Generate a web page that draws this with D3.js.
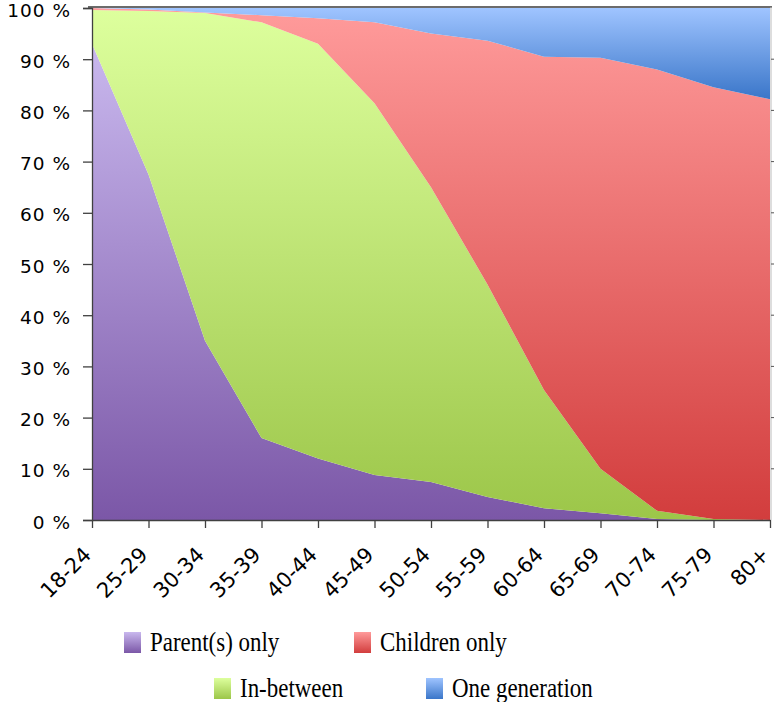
<!DOCTYPE html>
<html>
<head>
<meta charset="utf-8">
<script src="https://cdn.jsdelivr.net/npm/d3@7"></script>
<style>
  html, body { margin: 0; padding: 0; background: #ffffff; }
  svg { display: block; }
</style>
</head>
<body>
<svg id="chart" width="774" height="702"></svg>
<script>
// ---- data ----
const categories = ["18-24","25-29","30-34","35-39","40-44","45-49","50-54","55-59","60-64","65-69","70-74","75-79","80+"];
const parentOnly   = [93, 67.5, 35, 16, 12, 8.8, 7.4, 4.5, 2.3, 1.3, 0.2, 0, 0];
const inBetween    = [6.6, 31.9, 64, 81.2, 81, 72.6, 57.6, 41.5, 23.1, 8.7, 1.6, 0.2, 0];
const childrenOnly = [0.4, 0.3, 0.1, 1.4, 5, 15.8, 30, 47.6, 65.1, 80.3, 86.2, 84.3, 82.2];
const oneGeneration= [0, 0.3, 0.9, 1.4, 2, 2.8, 5, 6.4, 9.5, 9.7, 12, 15.5, 17.8];
const seriesNames  = ["Parent(s) only", "In-between", "Children only", "One generation"];
const yTicks       = [0,10,20,30,40,50,60,70,80,90,100];

// ---- layout ----
const svg = d3.select("#chart");
const mLeft = 92, mRight = 770, mTop = 8, mBottom = 520;

const x = d3.scalePoint().domain(categories).range([mLeft, mRight]);
const y = d3.scaleLinear().domain([0, 100]).range([mBottom, mTop]);

const keys = ["p","b","c","o"];
const table = categories.map((c, i) => ({
  cat: c, p: parentOnly[i], b: inBetween[i], c: childrenOnly[i], o: oneGeneration[i]
}));
const stacked = d3.stack().keys(keys)(table);

const grads = {
  p: ["#c9b8ee", "#7b57a7"],
  b: ["#ddff9d", "#9cc649"],
  c: ["#ff9b9b", "#d23d3d"],
  o: ["#9fc4ff", "#3a76c9"]
};
const defs = svg.append("defs");
keys.forEach(k => {
  const g = defs.append("linearGradient").attr("id", "g_" + k)
    .attr("x1", 0).attr("y1", 0).attr("x2", 0).attr("y2", 1);
  g.append("stop").attr("offset", "0%").attr("stop-color", grads[k][0]);
  g.append("stop").attr("offset", "100%").attr("stop-color", grads[k][1]);
});

const area = d3.area()
  .x((d, i) => x(categories[i]))
  .y0(d => y(d[0]))
  .y1(d => y(d[1]));

svg.append("g").selectAll("path").data(stacked).join("path")
  .attr("d", area)
  .attr("fill", d => `url(#g_${d.key})`);

// top border and right border
svg.append("line").attr("x1", mLeft - 4).attr("x2", mRight + 2)
  .attr("y1", mTop - 1).attr("y2", mTop - 1)
  .attr("stroke", "#3a3a3a").attr("stroke-width", 1.5);
svg.append("line").attr("x1", mRight + 1).attr("x2", mRight + 1)
  .attr("y1", mTop - 1).attr("y2", mBottom)
  .attr("stroke", "#bbbbbb").attr("stroke-width", 1);
svg.append("g").selectAll("line").data(yTicks.slice(1, -1)).join("line")
  .attr("x1", mRight + 1).attr("x2", mRight + 4)
  .attr("y1", d => y(d)).attr("y2", d => y(d))
  .attr("stroke", "#555").attr("stroke-width", 1);

// y axis
const yAxis = svg.append("g").attr("transform", `translate(${mLeft},0)`)
  .call(d3.axisLeft(y).tickValues(yTicks).tickFormat(d => d + " %").tickSize(9).tickPadding(12));
yAxis.selectAll("path, line").attr("stroke", "#404040").attr("stroke-width", 1.3);
yAxis.selectAll("text").attr("font-family", "DejaVu Sans").attr("font-size", 18.5)
  .attr("fill", "#000").attr("letter-spacing", 1).attr("dy", "8px");

// x axis
const xAxis = svg.append("g").attr("transform", `translate(0,${mBottom})`)
  .call(d3.axisBottom(x).tickSize(8).tickSizeOuter(0));
xAxis.select("path").attr("stroke", "#404040").attr("stroke-width", 1.3);
xAxis.selectAll("line").attr("stroke", "#404040").attr("stroke-width", 1.3);
xAxis.selectAll("text")
  .attr("font-family", "DejaVu Sans").attr("font-size", 21).attr("fill", "#000")
  .attr("text-anchor", "end")
  .attr("dy", 0)
  .attr("transform", "translate(0,36) rotate(-45)")
  .attr("x", 0).attr("y", 0);

// legend
const legendItems = [
  { key: "p", name: seriesNames[0], x: 124, y: 632 },
  { key: "c", name: seriesNames[2], x: 354, y: 632 },
  { key: "b", name: seriesNames[1], x: 214, y: 678 },
  { key: "o", name: seriesNames[3], x: 426, y: 678 }
];
const lg = svg.append("g").selectAll("g").data(legendItems).join("g")
  .attr("transform", d => `translate(${d.x},${d.y})`);
lg.append("rect").attr("width", 17).attr("height", 21)
  .attr("fill", d => `url(#g_${d.key})`);
lg.append("text")
  .attr("transform", "translate(26,19) scale(0.85,1)")
  .attr("font-family", "Liberation Serif").attr("font-size", 27).attr("fill", "#000")
  .text(d => d.name);
</script>
</body>
</html>
